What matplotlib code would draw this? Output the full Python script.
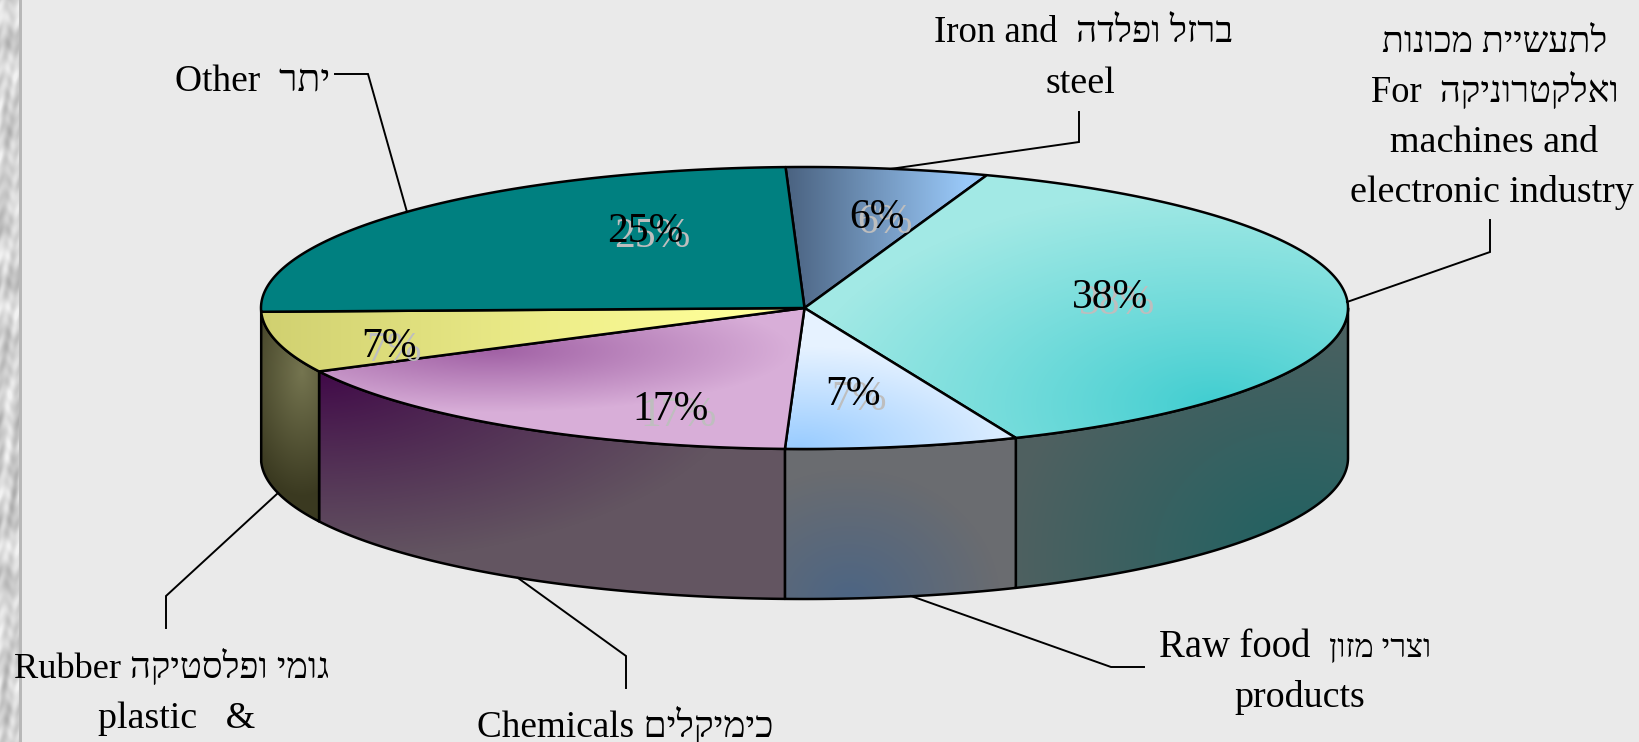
import numpy as np
import matplotlib
matplotlib.use("Agg")
import matplotlib.pyplot as plt
from matplotlib.patches import Polygon, Rectangle

# ---- data ----
categories = ["Iron and steel", "Machines and electronic industry", "Raw food products",
              "Chemicals", "Rubber & plastic", "Other"]
shares = [6.0, 38.2, 6.93, 17.0, 7.0, 24.87]
start_angle = 92.0

W, H = 1639, 742
cx, cy, rx, ry, depth = 804.5, 308.0, 543.5, 141.0, 150.0
SERIF = ["Liberation Serif", "DejaVu Serif"]


def vis(s):
    """Hebrew in visual order (matplotlib does no bidi reordering)."""
    return s[::-1]


fig = plt.figure(figsize=(W / 100, H / 100), dpi=100, facecolor="#EAEAEA")
ax = fig.add_axes([0, 0, 1, 1])
ax.set_xlim(0, W)
ax.set_ylim(H, 0)
ax.axis("off")

X, Y = np.meshgrid(np.arange(W) + 0.5, np.arange(H) + 0.5)


def rgb(h):
    return np.array(matplotlib.colors.to_rgb(h))


def blend(t, c0, c1):
    t = np.clip(t, 0, 1)[..., None]
    return rgb(c0) * (1 - t) + rgb(c1) * t


def linear(x0, x1, c0, c1):
    return blend((X - x0) / (x1 - x0), c0, c1)


def radial(x0, y0, sx, sy, c0, c1, power=1.0):
    d = np.sqrt(((X - x0) / sx) ** 2 + ((Y - y0) / sy) ** 2)
    return blend(np.clip(d, 0, 1) ** power, c0, c1)


def paint(img, xy, lw=1.8):
    poly = Polygon(xy, closed=True, facecolor="none", edgecolor="none")
    ax.add_patch(poly)
    im = ax.imshow(img, extent=(0, W, H, 0), aspect="auto", interpolation="nearest", zorder=poly.get_zorder())
    im.set_clip_path(poly)
    ax.add_patch(Polygon(xy, closed=True, facecolor="none", edgecolor="black", linewidth=lw, joinstyle="round"))


def arc(a, b, dy=0.0):
    t = np.radians(np.linspace(a, b, 160))
    return np.column_stack([cx + rx * np.cos(t), cy - ry * np.sin(t) + dy])


# slice boundaries come from the values
bounds = start_angle - np.cumsum([0] + shares) * 3.6

top_fill = [
    linear(786, 965, "#4A6280", "#99C8F8"),
    radial(1215, 405, 420, 215, "#3FCDD0", "#A2E9E5", 0.9),
    radial(800, 447, 240, 100, "#99CCFF", "#E6F2FF"),
    radial(490, 350, 300, 62, "#A060A4", "#D8AED8"),
    linear(261, 730, "#D0D070", "#FFFF99"),
    np.broadcast_to(rgb("#008080"), X.shape + (3,)),
]
side_fill = [
    None,
    radial(1300, 560, 290, 260, "#1F6262", "#4F6060"),
    radial(850, 600, 150, 130, "#4C6584", "#6A6C70"),
    radial(319, 372, 430, 190, "#400848", "#635561", 0.9),
    radial(302, 372, 62, 125, "#757550", "#3A3920"),
    None,
]

# side wall (only the front half of the disc is visible)
for i in range(len(shares)):
    a, b = bounds[i], bounds[i + 1]
    lo, hi = max(b, -180.0), min(a, 0.0)
    if hi > lo and side_fill[i] is not None:
        up = arc(hi, lo)
        dn = arc(lo, hi, depth)
        paint(side_fill[i], np.vstack([up, dn]))

# top face
for i in range(len(shares)):
    edge = arc(bounds[i], bounds[i + 1])
    paint(top_fill[i], np.vstack([[cx, cy], edge]))

# percentage labels (black with a pale grey ghost behind)
pct_pos = [(877, 228), (1110, 308), (853, 405), (670, 420), (389, 357), (645, 242)]
ghost = [(8, 5), (7, 6), (6, 5), (9, 6), (5, 4), (7, 5)]
for v, (x, y), (dx, dy) in zip(shares, pct_pos, ghost):
    ax.text(x + dx, y + dy, f"{round(v)}%", family=SERIF, fontsize=30, color="#BEBEBE", ha="center", va="baseline", zorder=6)
    ax.text(x, y, f"{round(v)}%", family=SERIF, fontsize=30, color="black", ha="center", va="baseline", zorder=7)

# leader lines
leaders = [
    [(1079, 112), (1079, 142), (890, 169)],
    [(1490, 220), (1490, 252), (1347, 302)],
    [(1144, 667), (1111, 667), (911, 596)],
    [(626, 688), (626, 656), (518, 578)],
    [(166, 628), (166, 596), (278, 493)],
    [(335, 74), (368, 74), (407, 212)],
]
for pts in leaders:
    p = np.array(pts)
    ax.plot(p[:, 0], p[:, 1], color="black", lw=1.4, solid_joinstyle="miter", zorder=5)

# category labels (text, x centre, baseline, size)
lines = [
    ("Iron and  " + vis("ברזל ופלדה"), 1084, 42, 26.5),
    ("steel", 1080, 93, 27.4),
    (vis("לתעשיית מכונות"), 1495, 52, 25.9),
    ("For  " + vis("ואלקטרוניקה"), 1495, 102, 26.3),
    ("machines and", 1494, 152, 27.4),
    ("electronic industry", 1492, 202, 27.4),
    ("Other  " + vis("יתר"), 253, 91, 27.0),
    ("Rubber " + vis("גומי ופלסטיקה"), 172, 678, 26.2),
    ("plastic   &", 177, 728, 27.4),
    ("Chemicals " + vis("כימיקלים"), 625, 737, 26.8),
    ("products", 1300, 707, 27.4),
]
for s, x, y, fs in lines:
    ax.text(x, y, s, family=SERIF, fontsize=fs, color="black", ha="center", va="baseline", zorder=8)

ax.text(1159, 657, "Raw food", family=SERIF, fontsize=27.8, color="black", ha="left", va="baseline", zorder=8)
raw = ax.text(1329, 657, vis("מוצרי מזון"), family=SERIF, fontsize=23.3,
              color="black", ha="left", va="baseline", zorder=8)
raw.set_clip_path(Rectangle((0, 0), 1432, H, transform=ax.transData))
raw.set_clip_on(True)

# marble strip on the left edge
xs, ys = X[:, :22], Y[:, :22]
u = ys / 17.0 + xs / 6.0
v = ys / 43.0 - xs / 11.0
m = (0.62 + 0.17 * np.sin(u + 2.4 * np.sin(v)) + 0.13 * np.sin(2.3 * v + 1.6 * np.sin(u * 1.3))
     + 0.09 * np.sin(2.9 * u - 1.7 * v) + 0.07 * np.sin(ys / 2.7 + 1.9 * np.sin(xs / 3.1)))
strip = blend(m, "#A0A0A0", "#F2F2F2")
strip[:, 19:] = rgb("#B8B8B8")
ax.imshow(strip, extent=(0, 22, H, 0), aspect="auto", interpolation="bilinear", zorder=0.5)
ax.set_xlim(0, W)
ax.set_ylim(H, 0)

fig.savefig("out.png", dpi=100, facecolor=fig.get_facecolor())
